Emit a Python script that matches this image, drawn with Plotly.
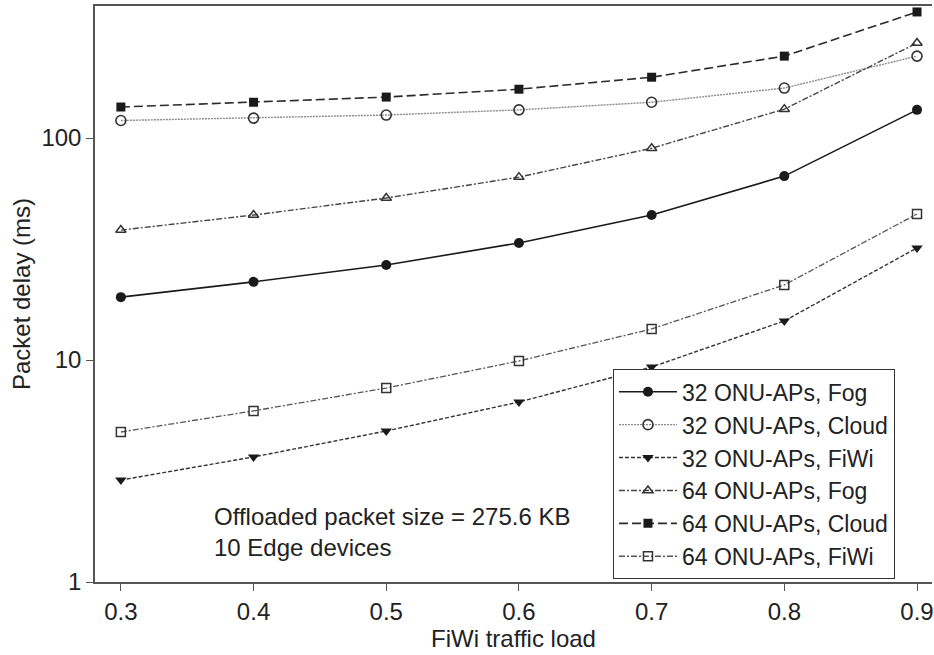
import plotly.graph_objects as go

# FiWi traffic load (x) and packet delay in ms (y, log scale)
load = [0.3, 0.4, 0.5, 0.6, 0.7, 0.8, 0.9]

fog_32 = [19.2, 22.5, 26.8, 33.7, 45.0, 67.4, 134]
cloud_32 = [120, 123, 127, 134, 145, 168, 234]
fiwi_32 = [2.88, 3.66, 4.79, 6.47, 9.3, 15.0, 32.0]
fog_64 = [38.5, 45.0, 53.7, 66.7, 90.0, 135, 268]
cloud_64 = [138, 145, 153, 166, 188, 234, 370]
fiwi_64 = [4.74, 5.9, 7.48, 9.9, 13.8, 21.8, 45.5]

series_names = [
    "32 ONU-APs, Fog",
    "32 ONU-APs, Cloud",
    "32 ONU-APs, FiWi",
    "64 ONU-APs, Fog",
    "64 ONU-APs, Cloud",
    "64 ONU-APs, FiWi",
]
series_values = [fog_32, cloud_32, fiwi_32, fog_64, cloud_64, fiwi_64]

y_tick_values = [1, 10, 100]
y_tick_labels = ["1", "10", "100"]
x_tick_values = [0.3, 0.4, 0.5, 0.6, 0.7, 0.8, 0.9]
x_tick_labels = ["0.3", "0.4", "0.5", "0.6", "0.7", "0.8", "0.9"]

styles = [
    dict(line=dict(color="#1a1a1a", width=1.6, dash="solid"),
         marker=dict(symbol="circle", size=10, color="#1a1a1a")),
    dict(line=dict(color="#8a8a8a", width=1.4, dash="2px,1px"),
         marker=dict(symbol="circle-open", size=10, color="#333333", line=dict(width=1.6))),
    dict(line=dict(color="#333333", width=1.4, dash="4px,2px"),
         marker=dict(symbol="triangle-down", size=10, color="#1a1a1a")),
    dict(line=dict(color="#444444", width=1.4, dash="6px,2px,2px,2px"),
         marker=dict(symbol="triangle-up-open", size=9, color="#333333", line=dict(width=1.5))),
    dict(line=dict(color="#2a2a2a", width=1.6, dash="9px,4px"),
         marker=dict(symbol="square", size=9, color="#1a1a1a")),
    dict(line=dict(color="#555555", width=1.3, dash="6px,2px,2px,2px"),
         marker=dict(symbol="square-open", size=9, color="#333333", line=dict(width=1.5))),
]

fig = go.Figure()
for name, vals, st in zip(series_names, series_values, styles):
    fig.add_trace(go.Scatter(
        x=load, y=vals, name=name, mode="lines+markers",
        line=st["line"], marker=st["marker"],
    ))

font_family = "Liberation Sans, Arial, Helvetica, sans-serif"

fig.update_layout(
    width=934, height=655,
    margin=dict(l=95, r=0, t=6, b=73),
    paper_bgcolor="white", plot_bgcolor="white",
    font=dict(family=font_family, size=24, color="#222222"),
    showlegend=True,
    legend=dict(
        x=0.6186, y=0.005, xanchor="left", yanchor="bottom",
        bgcolor="white", bordercolor="#333333", borderwidth=1.2,
        font=dict(size=23, color="#222222"),
        tracegroupgap=0, itemwidth=58,
    ),
    annotations=[dict(
        xref="paper", yref="paper", x=0.1395, y=0.087,
        xanchor="left", yanchor="middle", align="left", showarrow=False,
        text="Offloaded packet size = 275.6 KB<br>10 Edge devices",
        font=dict(size=24, color="#222222"),
    )],
)

fig.update_xaxes(
    range=[0.2805, 0.9113],
    tickvals=x_tick_values, ticktext=x_tick_labels,
    ticks="outside", ticklen=7, tickcolor="#555555", tickwidth=1.2,
    ticklabeloverflow="allow",
    showline=True, linecolor="#555555", linewidth=1.5, mirror=True,
    showgrid=False, zeroline=False,
    tickfont=dict(size=24),
    title=dict(text="FiWi traffic load", standoff=6, font=dict(size=24)),
)
fig.update_yaxes(
    type="log", range=[0, 2.595],
    tickvals=y_tick_values, ticktext=y_tick_labels,
    ticks="outside", ticklen=7, tickcolor="#555555", tickwidth=1.2,
    showline=True, linecolor="#555555", linewidth=1.5,
    showgrid=False, zeroline=False,
    tickfont=dict(size=24),
    title=dict(text="Packet delay (ms)", standoff=4, font=dict(size=24)),
)

fig.write_html("out.html")
